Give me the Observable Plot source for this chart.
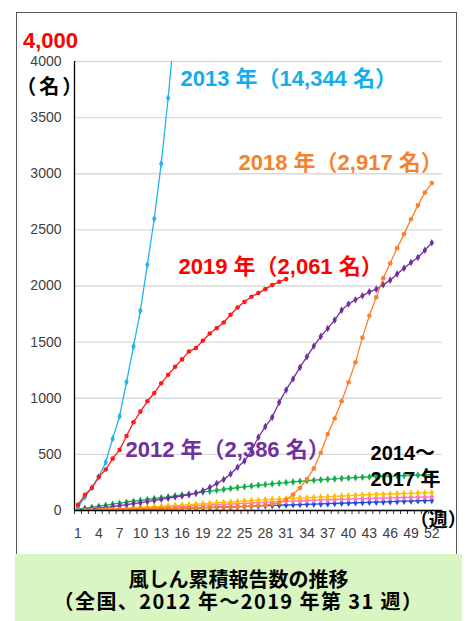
<!DOCTYPE html>
<html><head><meta charset="utf-8">
<script src="https://cdn.jsdelivr.net/npm/d3@7"></script>
<script src="https://cdn.jsdelivr.net/npm/@observablehq/plot@0.6"></script>
<style>
body{margin:0;background:#fff;}
#wrap{position:relative;width:467px;height:621px;overflow:hidden;font-family:"Liberation Sans","Noto Sans CJK JP",sans-serif;}
#frame{position:absolute;left:16px;top:12px;width:441px;height:543px;box-sizing:border-box;border:1.5px solid #5a5a5a;border-bottom:none;pointer-events:none;}
#chart{position:absolute;left:0;top:0;}
#chart svg{overflow:visible;}
#caption{position:absolute;left:15px;top:554px;width:447px;height:67px;background:#D9F5C2;text-align:center;font-family:"Noto Sans CJK JP",sans-serif;font-weight:bold;font-size:20px;line-height:22px;box-sizing:border-box;padding-top:14px;color:#000;}
#caption .l2{letter-spacing:1.4px;}
</style></head>
<body>
<div id="wrap">
  <div id="chart"></div>
  <div id="frame"></div>
  <div id="caption">風しん累積報告数の推移<br><span class="l2">（全国、2012 年～2019 年第 31 週）</span></div>
</div>
<script>
// ---- data ----
const weeks = d3.range(1, 53);
const xTickLabels = [1,4,7,10,13,16,19,22,25,28,31,34,37,40,43,46,49,52];
const yTicks = [0,500,1000,1500,2000,2500,3000,3500,4000];

const y2013 = [30,120,205,300,430,640,840,1145,1460,1780,2190,2600,3090,3675,4340];
const y2019 = [50,140,200,300,365,462,540,664,786,881,973,1047,1133,1210,1281,1346,1417,1447,1512,1577,1625,1675,1744,1809,1859,1904,1937,1972,2008,2037,2061];
const y2012 = [5,10,15,22,28,35,43,52,62,70,80,90,100,110,120,130,140,155,175,205,240,276,326,385,440,534,652,747,830,963,1074,1172,1275,1370,1465,1551,1622,1696,1785,1839,1877,1913,1948,1972,2011,2052,2106,2159,2209,2254,2319,2386];
const y2018 = [2,4,6,8,10,11,12,13,14,15,16,17,18,19,20,21,22,23,24,26,27,28,30,32,35,38,42,48,56,70,95,142,200,280,375,515,682,820,973,1142,1320,1540,1735,1900,2070,2202,2337,2462,2595,2718,2832,2917];
const yGreen = [10,20,28,38,47,56,65,74,83,90,98,106,114,122,130,138,146,154,164,172,180,188,196,204,211,218,225,231,237,243,249,255,260,265,270,274,278,282,286,290,293,296,299,302,305,307,309,311,313,315,317,319];
const yYellow = [3,5,8,10,13,16,19,22,25,28,31,34,37,40,44,48,52,56,60,64,68,72,76,80,84,88,92,96,99,102,105,108,111,114,117,120,123,126,129,132,135,138,141,143,145,147,149,151,153,155,157,160];
const yPink = [1,3,5,7,9,11,13,15,17,20,22,25,28,31,34,37,40,43,46,49,52,55,58,61,64,67,70,73,76,79,82,84,87,89,92,94,96,98,100,102,104,106,108,110,111,113,114,116,117,119,120,122];
const yBlue = [0,1,2,3,4,5,6,7,8,10,11,12,14,15,17,19,21,23,25,27,29,31,33,35,37,39,41,43,45,47,49,51,53,55,57,59,61,63,65,67,69,71,73,75,77,79,81,83,85,87,88,90];

const seriesNames = ["2014-2017 a","2014-2017 b","2014-2017 c","2014-2017 d","2012","2018","2013","2019"];
const seriesValues = [yBlue, yPink, yYellow, yGreen, y2012, y2018, y2013, y2019];
const seriesColors = ["#1F49DD","#FF6FCF","#FFC000","#12B04A","#7030A0","#FF7F2A","#1FB5EE","#FF1A1A"];
const seriesSymbols = ["diamond","diamond","diamond","diamond","diamond","circle","diamond","circle"];

const labelTexts = ["2013 年（14,344 名）","2018 年（2,917 名）","2019 年（2,061 名）","2012 年（2,386 名）","2014～","2017 年"];
const labelColors = ["#12AEEB","#F7822D","#FF0000","#7030A0","#000000","#000000"];

// ---- chart ----
const font = "'Liberation Sans','Noto Sans CJK JP',sans-serif";
const seriesMarks = [];
seriesValues.forEach((vals, k) => {
  const rows = vals.map((v, i) => ({week: weeks[i], value: v}));
  seriesMarks.push(Plot.line(rows, {x: "week", y: "value", stroke: seriesColors[k], strokeWidth: 1.3, clip: true}));
  seriesMarks.push(Plot.dot(rows, {x: "week", y: "value", fill: seriesColors[k], r: seriesSymbols[k] === "circle" ? 2.3 : 2.3, symbol: seriesSymbols[k], clip: true}));
});

const lbl = (i, x, y, size) => Plot.text([labelTexts[i]], {
  x, y, text: d => d, textAnchor: "start", lineAnchor: "bottom",
  fill: labelColors[i], fontSize: size, fontWeight: "bold", fontFamily: font
});

const chart = Plot.plot({
  width: 467, height: 553,
  marginLeft: 74, marginRight: 25.3, marginTop: 61, marginBottom: 43,
  style: {fontFamily: font, fontSize: "14px", color: "#404040", background: "transparent", overflow: "visible"},
  x: {domain: [0.5, 53.5]},
  y: {domain: [0, 4000]},
  marks: [
    Plot.gridY(yTicks, {stroke: "#d9d9d9", strokeOpacity: 1, strokeWidth: 1.3}),
    Plot.axisY(yTicks, {tickSize: 0, tickPadding: 13, label: null, tickFormat: d => String(d)}),
    Plot.axisX(d3.range(0.5, 54, 1), {tickSize: 4, tickFormat: () => "", label: null, stroke: "#333"}),
    Plot.axisX(xTickLabels, {tickSize: 0, tickPadding: 18, label: null, tickFormat: d => String(d)}),
    ...seriesMarks,
    Plot.ruleY([0], {stroke: "#000", strokeWidth: 1.3}),
    Plot.ruleX([0.5], {stroke: "#000", strokeWidth: 1.3}),
    lbl(0, 15.78, 3786, 22),
    lbl(1, 24.14, 3033, 22),
    lbl(2, 15.49, 2109, 22),
    lbl(3, 7.85, 481, 22),
    lbl(4, 43.17, 452, 20),
    lbl(5, 43.17, 214, 20)
  ]
});
document.getElementById("chart").appendChild(chart);

const svg = d3.select(chart);
svg.append("text").attr("x", 23).attr("y", 48).text("4,000").attr("text-anchor", "start")
  .attr("fill", "#FF0000").attr("font-size", 22).attr("font-weight", "bold").attr("font-family", font);
svg.append("text").attr("x", 50.7).attr("y", 93.5).text("（名）").attr("text-anchor", "middle")
  .attr("letter-spacing", "3px")
  .attr("fill", "#000").attr("font-size", 20).attr("font-weight", "bold").attr("font-family", "'Noto Sans CJK JP',sans-serif");
svg.append("text").attr("x", 438.3).attr("y", 527).text("（週）").attr("text-anchor", "middle")
  .attr("fill", "#000").attr("font-size", 19).attr("font-weight", "bold").attr("font-family", "'Noto Sans CJK JP',sans-serif");
</script>
</body></html>
